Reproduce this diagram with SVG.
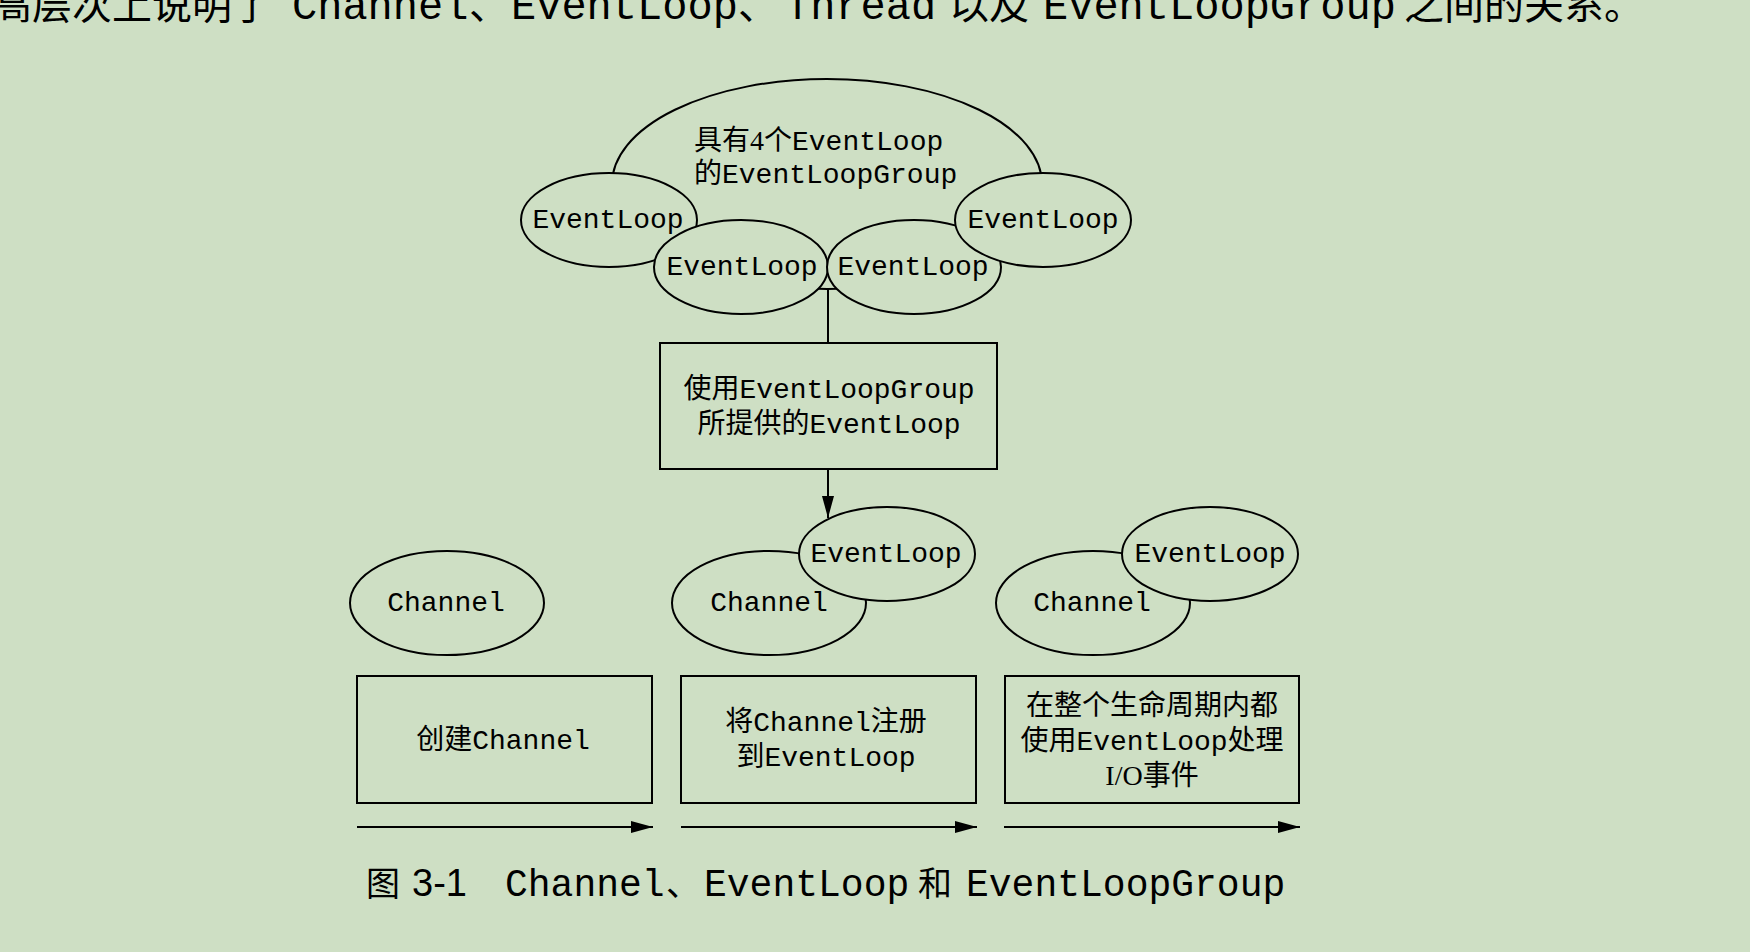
<svg xmlns="http://www.w3.org/2000/svg" width="1750" height="952" viewBox="0 0 1750 952">
<style>
.bg{fill:#CEDFC4}
.sh{fill:#CEDFC4;stroke:#000;stroke-width:2}
.ln{fill:none;stroke:#000;stroke-width:2}
.t{font-family:"Liberation Mono","Noto Sans CJK SC",monospace;font-size:28px;fill:#000}
.m{text-anchor:middle}
.cjk{font-family:"Noto Sans CJK SC",sans-serif}
.ser{font-family:"Liberation Serif","Noto Sans CJK SC",serif}
.top{font-family:"Liberation Mono","Noto Sans CJK SC",monospace;font-size:42px;fill:#000}
.topc{font-family:"Noto Sans CJK SC",sans-serif;font-size:40px;fill:#000}
.cap{font-family:"Liberation Mono","Noto Sans CJK SC",monospace;font-size:38px;fill:#000}
.capc{font-family:"Noto Sans CJK SC",sans-serif;font-size:34px;fill:#000}
.capn{font-family:"Liberation Sans",sans-serif;font-size:38px;fill:#000}
</style>
<defs>
<marker id="ah" markerWidth="22" markerHeight="12" refX="22" refY="6" orient="auto" markerUnits="userSpaceOnUse"><path d="M0,0 L22,6 L0,12 z" fill="#000"/></marker>
</defs>
<rect class="bg" x="0" y="0" width="1750" height="952"/>
<g id="intro-text">
<text class="topc" x="272" y="19" text-anchor="end">高层次上说明了</text>
<text class="top" x="292" y="19">Channel</text>
<text class="topc" x="469" y="19">、</text>
<text class="top" x="511" y="19">EventLoop</text>
<text class="topc" x="738" y="19">、</text>
<text class="top" x="785" y="19">Thread</text>
<text class="topc" x="949" y="19">以及</text>
<text class="top" x="1043" y="19">EventLoopGroup</text>
<text class="topc" x="1404" y="19">之间的关系。</text>
</g>
<g id="connectors">
<line class="ln" x1="828" y1="272" x2="828" y2="343"/>
<line class="ln" x1="828" y1="469" x2="828" y2="518" marker-end="url(#ah)"/>
<line class="ln" x1="357" y1="827" x2="653" y2="827" marker-end="url(#ah)"/>
<line class="ln" x1="681" y1="827" x2="977" y2="827" marker-end="url(#ah)"/>
<line class="ln" x1="1004" y1="827" x2="1300" y2="827" marker-end="url(#ah)"/>
</g>
<g id="group">
<ellipse class="sh" cx="827" cy="184" rx="215" ry="105"/>
<text class="t" x="694" y="150">具有<tspan class="ser">4</tspan>个EventLoop</text>
<text class="t" x="694" y="183">的EventLoopGroup</text>
</g>
<g id="loop1">
<ellipse class="sh" cx="609" cy="220" rx="88" ry="47"/>
<text class="t m" x="608" y="228">EventLoop</text>
</g>
<g id="loop2">
<ellipse class="sh" cx="741" cy="267" rx="87" ry="47"/>
<text class="t m" x="742" y="275">EventLoop</text>
</g>
<g id="loop3">
<ellipse class="sh" cx="914" cy="267" rx="87" ry="47"/>
<text class="t m" x="913" y="275">EventLoop</text>
</g>
<g id="loop4">
<ellipse class="sh" cx="1043" cy="220" rx="88" ry="47"/>
<text class="t m" x="1043" y="228">EventLoop</text>
</g>
<g id="provided">
<rect class="sh" x="660" y="343" width="337" height="126"/>
<text class="t m" x="829" y="398">使用EventLoopGroup</text>
<text class="t m" x="829" y="433">所提供的EventLoop</text>
</g>
<g id="channel1">
<ellipse class="sh" cx="447" cy="603" rx="97" ry="52"/>
<text class="t m" x="446" y="611">Channel</text>
</g>
<g id="channel2">
<ellipse class="sh" cx="769" cy="603" rx="97" ry="52"/>
<text class="t m" x="769" y="611">Channel</text>
</g>
<g id="loop5">
<ellipse class="sh" cx="887" cy="554" rx="88" ry="47"/>
<text class="t m" x="886" y="562">EventLoop</text>
</g>
<g id="channel3">
<ellipse class="sh" cx="1093" cy="603" rx="97" ry="52"/>
<text class="t m" x="1092" y="611">Channel</text>
</g>
<g id="loop6">
<ellipse class="sh" cx="1210" cy="554" rx="88" ry="47"/>
<text class="t m" x="1210" y="562">EventLoop</text>
</g>
<g id="step1">
<rect class="sh" x="357" y="676" width="295" height="127"/>
<text class="t m" x="503" y="749">创建Channel</text>
</g>
<g id="step2">
<rect class="sh" x="681" y="676" width="295" height="127"/>
<text class="t m" x="826" y="731">将Channel注册</text>
<text class="t m" x="826" y="766">到EventLoop</text>
</g>
<g id="step3">
<rect class="sh" x="1005" y="676" width="294" height="127"/>
<text class="t m" x="1152" y="715">在整个生命周期内都</text>
<text class="t m" x="1152" y="750">使用EventLoop处理</text>
<text class="t m" x="1152" y="785"><tspan class="ser">I/O</tspan>事件</text>
</g>
<g id="caption">
<text class="capc" x="366" y="896">图</text>
<text class="capn" x="412" y="896">3-1</text>
<text class="cap" x="505" y="896">Channel</text>
<text class="capc" x="666" y="896">、</text>
<text class="cap" x="704" y="896">EventLoop</text>
<text class="capc" x="918" y="896">和</text>
<text class="cap" x="966" y="896">EventLoopGroup</text>
</g>
</svg>
